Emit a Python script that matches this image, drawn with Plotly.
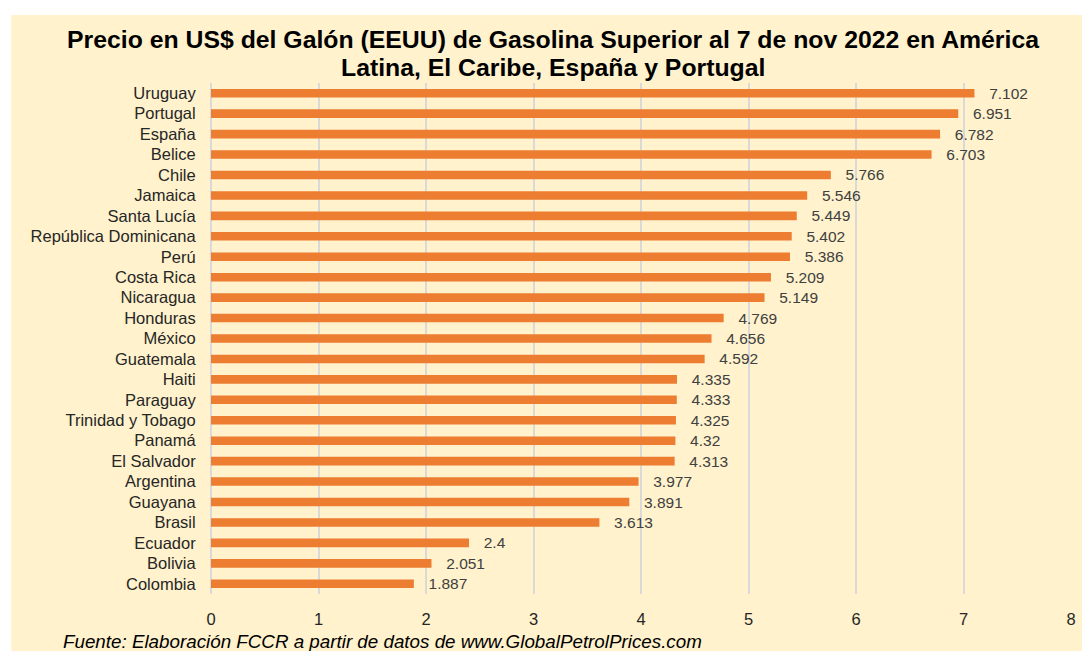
import plotly.graph_objects as go

countries = ["Uruguay", "Portugal", "España", "Belice", "Chile", "Jamaica", "Santa Lucía",
             "República Dominicana", "Perú", "Costa Rica", "Nicaragua", "Honduras", "México",
             "Guatemala", "Haiti", "Paraguay", "Trinidad y Tobago", "Panamá", "El Salvador",
             "Argentina", "Guayana", "Brasil", "Ecuador", "Bolivia", "Colombia"]
prices = [7.102, 6.951, 6.782, 6.703, 5.766, 5.546, 5.449, 5.402, 5.386, 5.209, 5.149,
          4.769, 4.656, 4.592, 4.335, 4.333, 4.325, 4.32, 4.313, 3.977, 3.891, 3.613,
          2.4, 2.051, 1.887]
x_ticks = [0, 1, 2, 3, 4, 5, 6, 7, 8]

title_line1 = "Precio en US$ del Galón (EEUU) de Gasolina Superior al 7 de nov 2022 en América"
title_line2 = "Latina, El Caribe, España y Portugal"
source_text = "Fuente: Elaboración FCCR a partir de datos de www.GlobalPetrolPrices.com"

W, H = 1082, 651
L, R, T, B = 211, 6, 83, 57
PW, PH = W - L - R, H - T - B
FONT = "Liberation Sans, Arial"

def px_x(p):
    return (p - L) / PW

def px_y(p):
    return (H - B - p) / PH

fig = go.Figure()
fig.add_trace(go.Bar(
    x=prices, y=countries, orientation="h",
    marker=dict(color="#ED7D31", line=dict(width=0)),
    text=["  \u2009" + str(v) for v in prices],
    textposition="outside",
    constraintext="none",
    textfont=dict(family=FONT, size=15.5, color="#404040"),
    cliponaxis=False,
    width=0.42,
))

fig.add_shape(type="rect", xref="paper", yref="paper",
              x0=px_x(10), x1=px_x(1100), y0=px_y(700), y1=px_y(15),
              fillcolor="#FFF2CC", line=dict(width=0), layer="below")

fig.add_annotation(text="<b>" + title_line1 + "</b>",
                   xref="paper", yref="paper", x=px_x(555), y=px_y(40),
                   xanchor="center", yanchor="middle", showarrow=False,
                   font=dict(family=FONT, size=24.8, color="#000000"))
fig.add_annotation(text="<b>" + title_line2 + "</b>",
                   xref="paper", yref="paper", x=px_x(555), y=px_y(68),
                   xanchor="center", yanchor="middle", showarrow=False,
                   font=dict(family=FONT, size=24.8, color="#000000"))
fig.add_annotation(text="<i>" + source_text + "</i>",
                   xref="paper", yref="paper", x=px_x(60), y=px_y(641),
                   xanchor="left", yanchor="middle", showarrow=False,
                   font=dict(family=FONT, size=18.8, color="#000000"))

fig.update_layout(
    width=W, height=H,
    margin=dict(l=L, r=R, t=T, b=B, pad=0),
    paper_bgcolor="#FFFFFF", plot_bgcolor="rgba(0,0,0,0)",
    showlegend=False,
    xaxis=dict(range=[0, 8], tickvals=x_ticks, showgrid=True, gridcolor="#D9D9D9",
               gridwidth=1.5, zeroline=True, zerolinecolor="#D9D9D9", zerolinewidth=1.5,
               showline=False, ticks="outside", ticklen=10, tickcolor="rgba(0,0,0,0)",
               tickfont=dict(family=FONT, size=16.5, color="#262626")),
    yaxis=dict(autorange="reversed", showgrid=False, zeroline=False, showline=False,
               ticks="outside", ticklen=11, tickcolor="rgba(0,0,0,0)",
               tickfont=dict(family=FONT, size=16.5, color="#262626")),
    bargap=0.58,
)

fig.write_html("out.html", config={"displayModeBar": False},
               post_script="document.body.style.margin='0';")
